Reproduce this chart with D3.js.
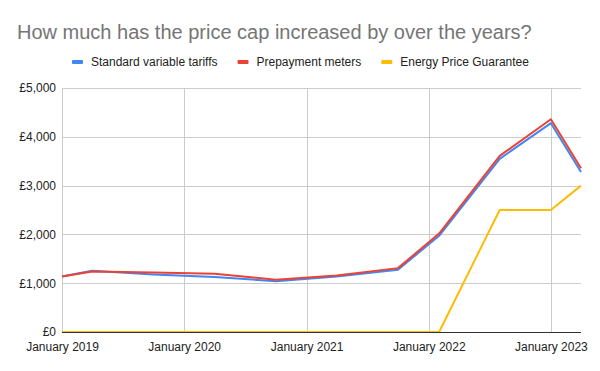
<!DOCTYPE html>
<html>
<head>
<meta charset="utf-8">
<script src="https://cdn.jsdelivr.net/npm/d3@7"></script>
<style>
  body { margin: 0; background: #fff; }
  svg { display: block; font-family: Arial, "Liberation Sans", sans-serif; }
</style>
</head>
<body>
<div id="chart"></div>
<script>
// price cap periods
const dates = ["2019-01-01", "2019-04-01", "2019-10-01", "2020-04-01", "2020-10-01",
  "2021-04-01", "2021-10-01", "2022-02-01", "2022-08-01", "2023-01-01", "2023-04-01"];
const standardVariable = [1137, 1254, 1179, 1126, 1042, 1138, 1277, 1971, 3549, 4279, 3280];
const prepayment = [1136, 1242, 1217, 1195, 1070, 1156, 1309, 2017, 3608, 4359, 3354];
const priceGuarantee = [0, 0, 0, 0, 0, 0, 0, 0, 2500, 2500, 3000];
const seriesNames = ["Standard variable tariffs", "Prepayment meters", "Energy Price Guarantee"];
const yTicks = [0, 1000, 2000, 3000, 4000, 5000];
const xTicks = ["2019-01-01", "2020-01-01", "2021-01-01", "2022-01-01", "2023-01-01"];

const width = 600, height = 371;
const colors = ["#4285f4", "#ea4335", "#fbbc04"];
const parse = d3.timeParse("%Y-%m-%d");

const svg = d3.select("#chart").append("svg")
  .attr("width", width)
  .attr("height", height);

svg.append("rect").attr("width", width).attr("height", height).attr("fill", "#fff");

const x = d3.scaleTime()
  .domain([parse("2019-01-01"), parse("2023-04-01")])
  .range([62, 581]);
const y = d3.scaleLinear()
  .domain([0, 5000])
  .range([332, 88]);

// title
svg.append("text")
  .attr("x", 17)
  .attr("y", 39)
  .attr("fill", "#757575")
  .style("font-size", "20px")
  .text("How much has the price cap increased by over the years?");

// legend
const legend = svg.append("g").attr("transform", "translate(0,62)");
let lx = 72;
seriesNames.forEach((name, i) => {
  legend.append("rect")
    .attr("x", lx).attr("y", -2)
    .attr("width", 11).attr("height", 4)
    .attr("rx", 1)
    .attr("fill", colors[i]);
  const t = legend.append("text")
    .attr("x", lx + 19)
    .attr("y", 4)
    .attr("fill", "#222")
    .style("font-size", "12px")
    .text(name);
  lx += 19 + t.node().getComputedTextLength() + 20;
});

// gridlines
const grid = svg.append("g").attr("stroke", "#cccccc").attr("stroke-width", 1);
yTicks.filter(d => d > 0).forEach(d => {
  grid.append("line")
    .attr("x1", 62).attr("x2", 581)
    .attr("y1", Math.round(y(d)) + 0.5).attr("y2", Math.round(y(d)) + 0.5);
});
xTicks.forEach(d => {
  const px = Math.round(x(parse(d))) + 0.5;
  grid.append("line")
    .attr("x1", px).attr("x2", px)
    .attr("y1", 88).attr("y2", 332);
});

// y axis
const yAxis = d3.axisLeft(y)
  .tickValues(yTicks)
  .tickSize(0)
  .tickPadding(6)
  .tickFormat(d => "£" + d3.format(",")(d));
svg.append("g")
  .attr("transform", "translate(62,0)")
  .call(yAxis)
  .call(g => g.select(".domain").remove())
  .selectAll("text")
  .attr("fill", "#222")
  .style("font-size", "12px")
  .style("font-family", "Arial, 'Liberation Sans', sans-serif");

// x axis
const xAxis = d3.axisBottom(x)
  .tickValues(xTicks.map(parse))
  .tickSize(0)
  .tickPadding(10)
  .tickFormat(d3.timeFormat("%B %Y"));
svg.append("g")
  .attr("transform", "translate(0,332)")
  .call(xAxis)
  .call(g => g.select(".domain").remove())
  .selectAll("text")
  .attr("fill", "#222")
  .style("font-size", "12px")
  .style("font-family", "Arial, 'Liberation Sans', sans-serif");

// lines
const line = d3.line()
  .x((d, i) => x(parse(dates[i])))
  .y(d => y(d));
[standardVariable, prepayment, priceGuarantee].forEach((values, i) => {
  svg.append("path")
    .datum(values)
    .attr("fill", "none")
    .attr("stroke", colors[i])
    .attr("stroke-width", 2)
    .attr("stroke-linejoin", "round")
    .attr("d", line);
});

// baseline
svg.append("line")
  .attr("x1", 62).attr("x2", 581)
  .attr("y1", 332.5).attr("y2", 332.5)
  .attr("stroke", "#333")
  .attr("stroke-width", 1);
</script>
</body>
</html>
